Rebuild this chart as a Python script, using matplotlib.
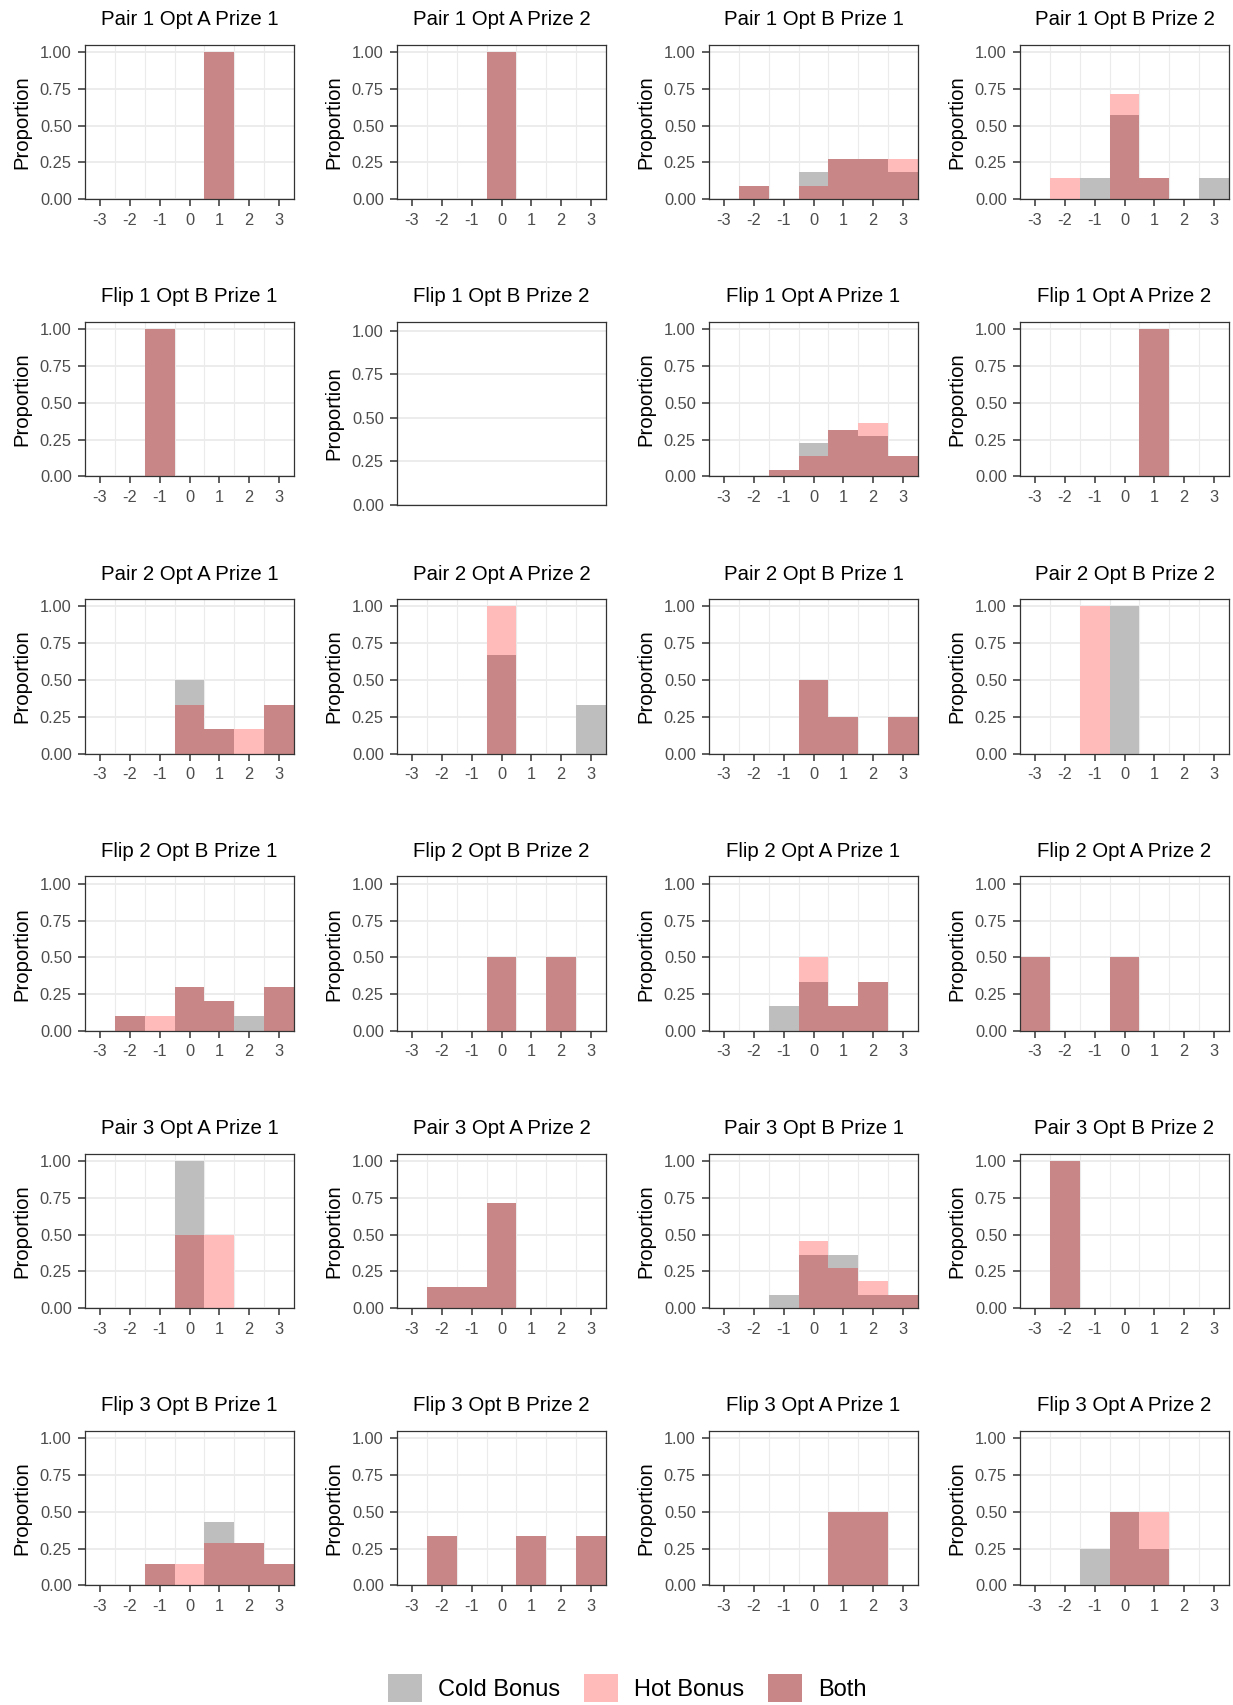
import matplotlib
matplotlib.use("Agg")
import matplotlib.pyplot as plt
from matplotlib.patches import Patch
import numpy as np

plt.rcParams['font.family'] = ['Liberation Sans', 'DejaVu Sans']

# ---------------- data ----------------
bins = [-3, -2, -1, 0, 1, 2, 3]
tick_labels = ["-3", "-2", "-1", "0", "1", "2", "3"]
y_ticks = [0.0, 0.25, 0.5, 0.75, 1.0]
y_tick_labels = ["0.00", "0.25", "0.50", "0.75", "1.00"]

titles = [
    "Pair 1 Opt A Prize 1", "Pair 1 Opt A Prize 2", "Pair 1 Opt B Prize 1", "Pair 1 Opt B Prize 2",
    "Flip 1 Opt B Prize 1", "Flip 1 Opt B Prize 2", "Flip 1 Opt A Prize 1", "Flip 1 Opt A Prize 2",
    "Pair 2 Opt A Prize 1", "Pair 2 Opt A Prize 2", "Pair 2 Opt B Prize 1", "Pair 2 Opt B Prize 2",
    "Flip 2 Opt B Prize 1", "Flip 2 Opt B Prize 2", "Flip 2 Opt A Prize 1", "Flip 2 Opt A Prize 2",
    "Pair 3 Opt A Prize 1", "Pair 3 Opt A Prize 2", "Pair 3 Opt B Prize 1", "Pair 3 Opt B Prize 2",
    "Flip 3 Opt B Prize 1", "Flip 3 Opt B Prize 2", "Flip 3 Opt A Prize 1", "Flip 3 Opt A Prize 2",
]

# proportions per bin (-3..3); None = no data for that panel
cold_pair1 = [[0, 0, 0, 0, 1.0, 0, 0],
              [0, 0, 0, 1.0, 0, 0, 0],
              [0, 0.091, 0, 0.182, 0.273, 0.273, 0.182],
              [0, 0, 0.143, 0.571, 0.143, 0, 0.143]]
hot_pair1 = [[0, 0, 0, 0, 1.0, 0, 0],
             [0, 0, 0, 1.0, 0, 0, 0],
             [0, 0.091, 0, 0.091, 0.273, 0.273, 0.273],
             [0, 0.143, 0, 0.714, 0.143, 0, 0]]

cold_flip1 = [[0, 0, 1.0, 0, 0, 0, 0],
              None,
              [0, 0, 0.045, 0.227, 0.318, 0.273, 0.136],
              [0, 0, 0, 0, 1.0, 0, 0]]
hot_flip1 = [[0, 0, 1.0, 0, 0, 0, 0],
             None,
             [0, 0, 0.045, 0.136, 0.318, 0.364, 0.136],
             [0, 0, 0, 0, 1.0, 0, 0]]

cold_pair2 = [[0, 0, 0, 0.5, 0.167, 0, 0.333],
              [0, 0, 0, 0.667, 0, 0, 0.333],
              [0, 0, 0, 0.5, 0.25, 0, 0.25],
              [0, 0, 0, 1.0, 0, 0, 0]]
hot_pair2 = [[0, 0, 0, 0.333, 0.167, 0.167, 0.333],
             [0, 0, 0, 1.0, 0, 0, 0],
             [0, 0, 0, 0.5, 0.25, 0, 0.25],
             [0, 0, 1.0, 0, 0, 0, 0]]

cold_flip2 = [[0, 0.1, 0, 0.3, 0.2, 0.1, 0.3],
              [0, 0, 0, 0.5, 0, 0.5, 0],
              [0, 0, 0.167, 0.333, 0.167, 0.333, 0],
              [0.5, 0, 0, 0.5, 0, 0, 0]]
hot_flip2 = [[0, 0.1, 0.1, 0.3, 0.2, 0, 0.3],
             [0, 0, 0, 0.5, 0, 0.5, 0],
             [0, 0, 0, 0.5, 0.167, 0.333, 0],
             [0.5, 0, 0, 0.5, 0, 0, 0]]

cold_pair3 = [[0, 0, 0, 1.0, 0, 0, 0],
              [0, 0.143, 0.143, 0.714, 0, 0, 0],
              [0, 0, 0.091, 0.364, 0.364, 0.091, 0.091],
              [0, 1.0, 0, 0, 0, 0, 0]]
hot_pair3 = [[0, 0, 0, 0.5, 0.5, 0, 0],
             [0, 0.143, 0.143, 0.714, 0, 0, 0],
             [0, 0, 0, 0.455, 0.273, 0.182, 0.091],
             [0, 1.0, 0, 0, 0, 0, 0]]

cold_flip3 = [[0, 0, 0.143, 0, 0.429, 0.286, 0.143],
              [0, 0.333, 0, 0, 0.333, 0, 0.333],
              [0, 0, 0, 0, 0.5, 0.5, 0],
              [0, 0, 0.25, 0.5, 0.25, 0, 0]]
hot_flip3 = [[0, 0, 0.143, 0.143, 0.286, 0.286, 0.143],
             [0, 0.333, 0, 0, 0.333, 0, 0.333],
             [0, 0, 0, 0, 0.5, 0.5, 0],
             [0, 0, 0, 0.5, 0.5, 0, 0]]

legend_labels = ["Cold Bonus", "Hot Bonus", "Both"]

cold_all = cold_pair1 + cold_flip1 + cold_pair2 + cold_flip2 + cold_pair3 + cold_flip3
hot_all = hot_pair1 + hot_flip1 + hot_pair2 + hot_flip2 + hot_pair3 + hot_flip3

# ---------------- styling ----------------
W, H = 1233, 1705
DPI = 100
C_COLD = "#BEBEBE"
C_HOT = "#FFBABA"
C_BOTH = "#C98686"
GRID = "#EBEBEB"
BORDER = "#333333"
TICKTXT = "#4D4D4D"

col_left = [85, 397, 709, 1020]
col_w = 209
row_top = [44.6, 321.8, 599.1, 876.4, 1153.6, 1430.9]
row_h = 154.5
empty_h = 183
ylabel_offset = -54  # px from the panel's left edge to the label's right edge

fig = plt.figure(figsize=(W / DPI, H / DPI), dpi=DPI)
fig.patch.set_facecolor("white")

for i, title in enumerate(titles):
    r, c = divmod(i, 4)
    cold = cold_all[i]
    hot = hot_all[i]
    empty = cold is None
    h = empty_h if empty else row_h
    left = col_left[c]
    top = row_top[r]
    ax = fig.add_axes([left / W, 1 - (top + h) / H, col_w / W, h / H])
    ax.set_axisbelow(True)

    if not empty:
        cold_a = np.array(cold)
        hot_a = np.array(hot)
        both_a = np.minimum(cold_a, hot_a)
        ax.bar(bins, cold_a, width=1.0, color=C_COLD, linewidth=0, zorder=2)
        ax.bar(bins, hot_a, width=1.0, color=C_HOT, linewidth=0, zorder=3)
        ax.bar(bins, both_a, width=1.0, color=C_BOTH, linewidth=0, zorder=4)

    ax.set_xlim(-3.5, 3.5)
    ax.set_ylim(0, 1.05)
    ax.set_yticks(y_ticks)
    ax.set_yticklabels(y_tick_labels)
    ax.set_xticks([b - 0.5 for b in bins[1:]], minor=True)
    if empty:
        ax.set_xticks([])
    else:
        ax.set_xticks(bins)
        ax.set_xticklabels(tick_labels)

    ax.grid(True, which="major", axis="y", color=GRID, linewidth=1.3, zorder=0)
    if not empty:
        ax.grid(True, which="minor", axis="x", color=GRID, linewidth=0.8, zorder=0)

    for s in ax.spines.values():
        s.set_color(BORDER)
        s.set_linewidth(0.9)
        s.set_zorder(6)

    ax.tick_params(axis="both", which="major", length=5.2, width=1.1, color=BORDER,
                   labelsize=11.8, labelcolor=TICKTXT)
    ax.tick_params(axis="y", pad=4.3)
    ax.tick_params(axis="x", pad=4.5)
    ax.tick_params(axis="x", which="minor", length=0)

    ax.set_title(title, fontsize=14.7, pad=14, color="black")
    ax.set_ylabel("Proportion", fontsize=14.6, color="black")
    ax.yaxis.set_label_coords(ylabel_offset / col_w, 0.5)

handles = [Patch(facecolor=C_COLD, edgecolor="none"),
           Patch(facecolor=C_HOT, edgecolor="none"),
           Patch(facecolor=C_BOTH, edgecolor="none")]
em = 23.6
fig.legend(handles=handles, labels=legend_labels, loc="upper left",
           bbox_to_anchor=(388 / W, 1 - 1674 / H), ncol=3, frameon=False,
           fontsize=17, handlelength=34 / em, handleheight=34 / em,
           handletextpad=16 / em, columnspacing=24 / em,
           borderpad=0, borderaxespad=0)

fig.savefig("out.png", dpi=DPI, facecolor="white")
